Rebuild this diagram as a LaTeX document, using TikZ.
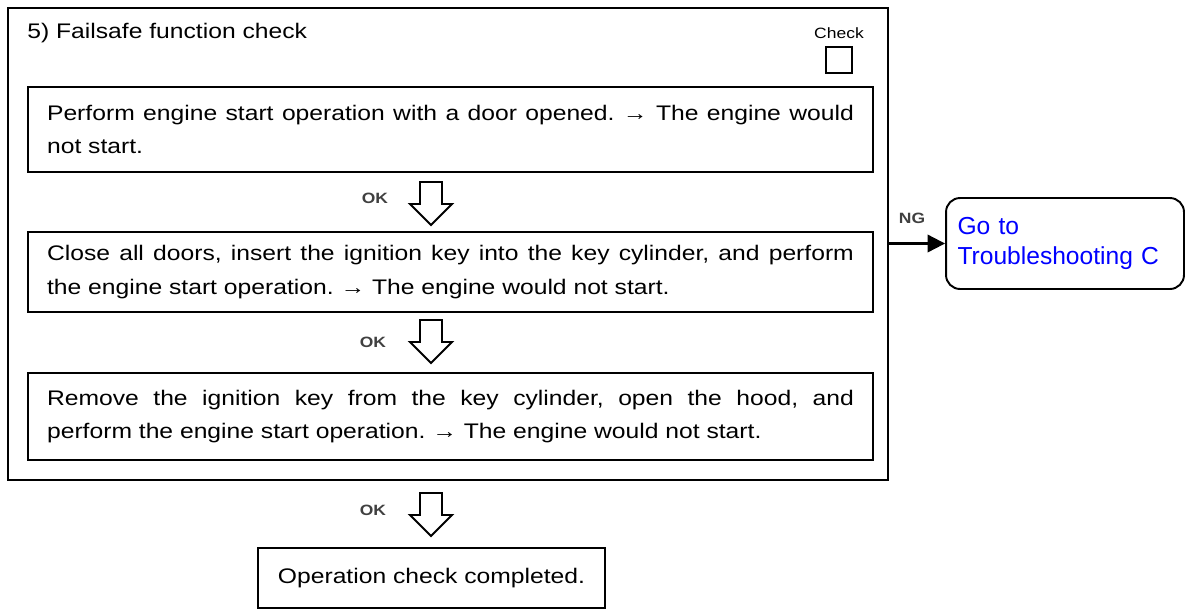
\documentclass[tikz,border=0pt]{standalone}
\usepackage{fontspec}
\setmainfont[FakeStretch=1.17]{Liberation Sans}
\newfontfamily\bluefont{Liberation Sans}
\usetikzlibrary{arrows.meta}
\tikzset{
  stepbox/.style={draw, line width=1.4pt, inner xsep=0.38cm, inner ysep=0pt,
    text width=16.14cm, align=justify, font=\fontsize{12}{19}\selectfont},
  oklabel/.style={font=\fontsize{8.5}{10}\selectfont\bfseries, text=black!75},
  okarrow/.pic={\draw[line width=1.1pt, line join=miter]
    (-11,0) -- (11,0) -- (11,22) -- (21,22) -- (0,43)
    -- (-21,22) -- (-11,22) -- cycle;}
}
\frenchspacing
\begin{document}
\begin{tikzpicture}[x=0.02cm, y=-0.02cm]
  \useasboundingbox (0,0) rectangle (1186,610);
  % outer frame of the check
  \node[draw, line width=1.4pt, minimum width=17.6cm, minimum height=9.44cm] (frame) at (448,244) {};
  \node[anchor=west, inner sep=0pt, font=\fontsize{12}{14}\selectfont] (title) at (27,33) {5) Failsafe function check};
  \node[font=\fontsize{8.5}{9}\selectfont] (checklbl) at (839,33) {Check};
  \node[draw, line width=1.1pt, minimum size=0.52cm, inner sep=0pt] (checkbox) at (839,60) {};
  % steps
  \node[stepbox, minimum height=1.7cm] (step1) at (450.5,129.5)
    {Perform engine start operation with a door opened. → The engine would\linebreak not start.};
  \node[stepbox, minimum height=1.6cm] (step2) at (450.5,272)
    {Close all doors, insert the ignition key into the key cylinder, and perform\linebreak the engine start operation. → The engine would not start.};
  \node[stepbox, minimum height=1.74cm] (step3) at (450.5,416.5)
    {Remove the ignition key from the key cylinder, open the hood, and\linebreak perform the engine start operation. → The engine would not start.};
  \node[draw, line width=1.4pt, minimum width=6.94cm, minimum height=1.2cm,
    font=\fontsize{12}{14}\selectfont] (done) at (431.5,578) {Operation check completed.};
  % OK arrows
  \node[oklabel] (ok1) at (375,198) {OK};
  \pic at (431,182) {okarrow};
  \node[oklabel] (ok2) at (373,342) {OK};
  \pic at (431,320) {okarrow};
  \node[oklabel] (ok3) at (373,510) {OK};
  \pic at (431,493) {okarrow};
  % NG branch
  \node[draw, line width=1.1pt, rounded corners=8pt, minimum width=4.76cm, minimum height=1.82cm,
    text width=4.3cm, align=left, text=blue, font=\bluefont\fontsize{14}{17}\selectfont] (trouble) at (1065,243.5)
    {Go to\\Troubleshooting C\\[4pt]};
  \draw[line width=1.2pt, -{Triangle[length=10pt, width=10pt]}] (frame.east |- trouble.west) -- (trouble.west);
  \node[oklabel] (ng) at (912,218) {NG};
\end{tikzpicture}
\end{document}
